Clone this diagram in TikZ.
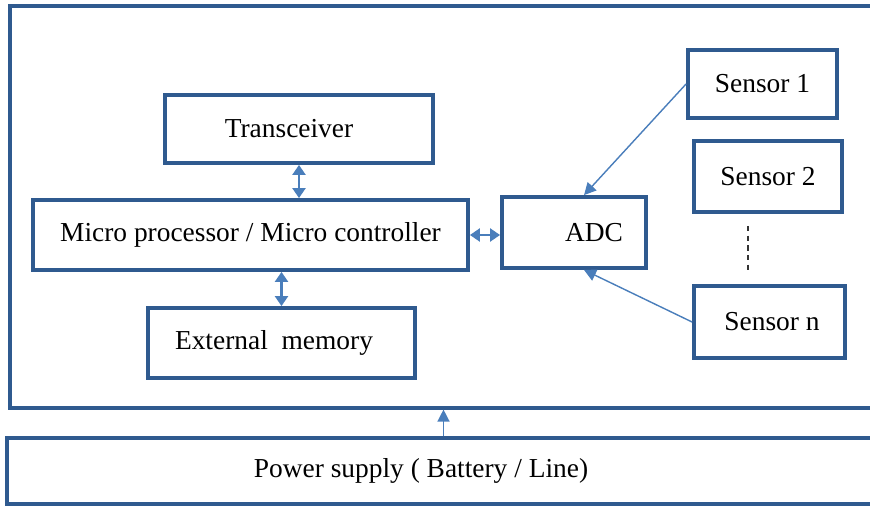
\documentclass[tikz,border=0pt]{standalone}
\usepackage{fontspec}
\setmainfont{Liberation Serif}
\usetikzlibrary{arrows.meta,positioning,calc}
\definecolor{boxline}{HTML}{2F5A8F}
\definecolor{arrline}{HTML}{4A7EBB}
\tikzset{
  vbox/.style={draw=boxline,fill=white,line width=2.2pt,align=flush center,inner sep=0pt},
  vframe/.style={draw=boxline,line width=1.8pt,inner sep=0pt},
  varr/.style={-{Triangle[length=2.4mm,width=2.4mm]},line width=0.8pt,draw=arrline,fill=arrline},
  vboth/.style={{Triangle[length=2mm,width=2.6mm]}-{Triangle[length=2mm,width=2.6mm]},line width=1.3pt,draw=arrline,fill=arrline},
  vdots/.style={line width=0.8pt,draw=black!80,dashed,dash pattern=on 3pt off 2.5pt}
}

\begin{document}
\begin{tikzpicture}[font=\fontsize{15.6}{18}\selectfont]
  % 1 px of the reference = 0.02 cm
  \clip (0,0) rectangle (17.4,-10.14);
  \node[vframe,minimum width=17.80cm,minimum height=8.04cm] (board) at (9.10,-4.14) {};
  \node[vframe,minimum width=17.86cm,minimum height=1.32cm] (power) at (9.07,-9.42) {Power supply ( Battery / Line)\hspace*{1.3cm}};
  \node[vbox,minimum width=5.36cm,minimum height=1.36cm] (trx) at (5.98,-2.58) {Transceiver\hspace*{0.4cm}};
  \node[vbox,minimum width=8.70cm,minimum height=1.40cm] (mcu) at (5.01,-4.70) {Micro processor / Micro controller};
  \node[vbox,minimum width=5.34cm,minimum height=1.40cm] (mem) at (5.63,-6.86) {External\ \ memory\hspace*{0.3cm}};
  \node[vbox,minimum width=2.88cm,minimum height=1.42cm] (adc) at (11.48,-4.65) {\hspace*{0.8cm}ADC};
  \node[vbox,minimum width=2.98cm,minimum height=1.36cm] (s1) at (15.25,-1.68) {Sensor 1};
  \node[vbox,minimum width=2.96cm,minimum height=1.42cm] (s2) at (15.36,-3.53) {Sensor 2};
  \node[vbox,minimum width=3.02cm,minimum height=1.44cm] (sn) at (15.39,-6.44) {\hspace*{0.1cm}Sensor n};
  \coordinate (dotstop) at (14.96,-4.52);
  \coordinate (dotsend) at (14.96,-5.40);
  % links
  \draw[vboth] (trx.south) -- (trx.south |- mcu.north);
  \draw[vboth] (mem.north) -- (mem.north |- mcu.south);
  \draw[vboth] (mcu.east) -- (mcu.east -| adc.west);
  \draw[varr] (s1.west) -- (adc.75);
  \draw[varr] (sn.west) -- (adc.-75);
  \draw[vdots] (dotstop) -- (dotsend);
  \draw[varr] ($(power.north)+(-0.2,0)$) -- ($(power.north |- board.south)+(-0.2,0)$);
\end{tikzpicture}
\end{document}
